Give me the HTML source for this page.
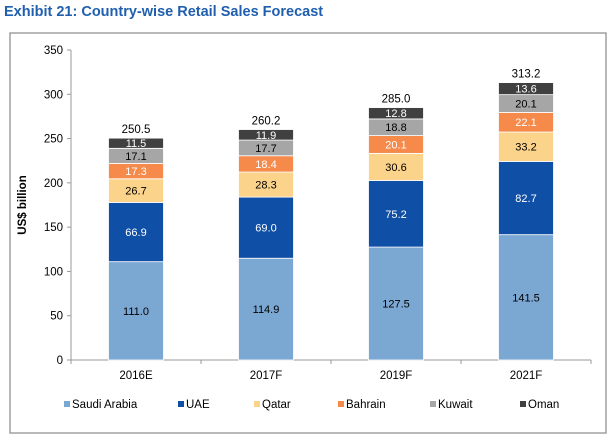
<!DOCTYPE html>
<html><head><meta charset="utf-8"><style>
body{margin:0;background:#fff;font-family:"Liberation Sans",sans-serif;}
</style></head><body>
<svg id="chart" width="613" height="443" viewBox="0 0 613 443" xmlns="http://www.w3.org/2000/svg">
<text x="4" y="16" font-size="14.5" font-weight="bold" fill="#1f5fae">Exhibit 21:  Country-wise Retail Sales Forecast</text>
<rect x="10" y="33" width="596" height="400" fill="#fff" stroke="#a0a0a0" stroke-width="1.5"/>
<g id="plot"></g>
</svg>
<script>
const categories=["2016E","2017F","2019F","2021F"];
const series=["Saudi Arabia","UAE","Qatar","Bahrain","Kuwait","Oman"];
const saudi=[111.0,114.9,127.5,141.5];
const uae=[66.9,69.0,75.2,82.7];
const qatar=[26.7,28.3,30.6,33.2];
const bahrain=[17.3,18.4,20.1,22.1];
const kuwait=[17.1,17.7,18.8,20.1];
const oman=[11.5,11.9,12.8,13.6];
const totals=["250.5","260.2","285.0","313.2"];
const yTicks=[0,50,100,150,200,250,300,350];
const colors=["#7ba7d3","#0f4fa6","#fcd38a","#f58a4b","#a6a6a6","#404040"];
const labelColors=["#000","#fff","#000","#fff","#000","#fff"];
const values=[saudi,uae,qatar,bahrain,kuwait,oman];
const NS="http://www.w3.org/2000/svg";
const g=document.getElementById('plot');
const x0=71,x1=591,yBase=360,yTop=50;
const y=v=>yBase-(v/350)*(yBase-yTop);
const band=(x1-x0)/categories.length;
const cx=i=>x0+band*(i+0.5);
const bw=55;
function mk(t,a){const e=document.createElementNS(NS,t);for(const k in a)e.setAttribute(k,a[k]);g.appendChild(e);return e;}
let ax=mk('line',{x1:x0,y1:y(0),x2:x0,y2:y(350),stroke:'#999'});


yTicks.forEach(t=>{
 let l=mk('line',{x1:x0-4,y1:y(t),x2:x0,y2:y(t),stroke:'#999'});
 
 
 let tx=mk('text',{x:x0-8,y:y(t)+4,'font-size':11.5,'text-anchor':'end',fill:'#000'});
 tx.textContent=t;
 
 
});
let yt=mk('text',{x:26,y:(y(0)+y(350))/2,'font-size':11.5,'font-weight':'bold','text-anchor':'middle',transform:`rotate(-90 26 ${(y(0)+y(350))/2})`});
yt.textContent='US$ billion';


let xa=mk('line',{x1:x0,y1:y(0),x2:x1,y2:y(0),stroke:'#999'});


for(let i=0;i<=categories.length;i++){
 let l=mk('line',{x1:x0+band*i,y1:y(0),x2:x0+band*i,y2:y(0)+4,stroke:'#999'});
 
 
}
categories.forEach((c,i)=>{
 let tx=mk('text',{x:cx(i),y:y(0)+19,'font-size':11.5,'text-anchor':'middle'});
 tx.textContent=c;
 
 
 let acc=0;
 values.forEach((s,k)=>{
  const v=s[i];
  const r=mk('rect',{x:cx(i)-bw/2,y:y(acc+v),width:bw,height:y(acc)-y(acc+v),fill:colors[k],stroke:'#fff','stroke-width':0.8});
  
  
  const lb=mk('text',{x:cx(i),y:(y(acc)+y(acc+v))/2+4,'font-size':11,'text-anchor':'middle',fill:labelColors[k]});
  lb.textContent=v.toFixed(1);
  
  
  acc+=v;
 });
 const tt=mk('text',{x:cx(i),y:y(acc)-5,'font-size':11.5,'text-anchor':'middle'});
 tt.textContent=totals[i];
 
 
});
const legX=[64,178,254,338,430,520];
series.forEach((s,k)=>{
 const r=mk('rect',{x:legX[k],y:401,width:6,height:6,fill:colors[k]});
 
 
 const t=mk('text',{x:legX[k]+8,y:408,'font-size':11.5});
 t.textContent=s;
 
 
});
</script>
</body></html>
